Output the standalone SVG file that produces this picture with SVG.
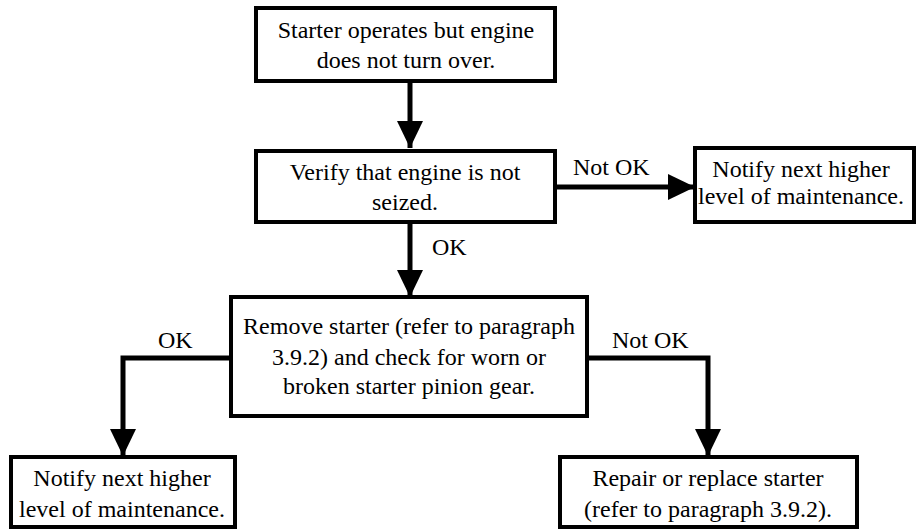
<svg xmlns="http://www.w3.org/2000/svg" width="916" height="529" viewBox="0 0 916 529">
<style>
.box{fill:#fff;stroke:#000;stroke-width:4}
.c{fill:none;stroke:#000;stroke-width:5}
text{font-family:'Liberation Serif','Times New Roman',serif;font-size:24px;fill:#000}
.t{text-anchor:middle}
</style>
<defs>
<marker id="ah" markerUnits="userSpaceOnUse" markerWidth="28" markerHeight="28" viewBox="0 0 28 28" refX="27" refY="14" orient="auto">
<path d="M0,1 L27,14 L0,27 Z" fill="#000" stroke="none"/>
</marker>
</defs>
<rect width="916" height="529" fill="#fff"/>
<g id="connectors">
<path class="c" d="M410,82 V148" marker-end="url(#ah)"/>
<path class="c" d="M556,187 H695" marker-end="url(#ah)"/>
<path class="c" d="M410,223 V297" marker-end="url(#ah)"/>
<path class="c" d="M230,358 H123 V456" marker-end="url(#ah)"/>
<path class="c" d="M588,358 H708 V456" marker-end="url(#ah)"/>
<text x="573" y="175">Not OK</text>
<text x="432" y="255">OK</text>
<text x="158" y="348">OK</text>
<text x="612" y="348">Not OK</text>
</g>
<g id="n1">
<rect class="box" x="256" y="8" width="299" height="73"/>
<text class="t" x="406" y="38">Starter operates but engine</text>
<text class="t" x="406" y="68">does not turn over.</text>
</g>
<g id="n2">
<rect class="box" x="256" y="151" width="299" height="71"/>
<text class="t" x="405" y="180">Verify that engine is not</text>
<text class="t" x="405" y="210">seized.</text>
</g>
<g id="n3">
<rect class="box" x="695" y="148" width="219" height="74"/>
<text class="t" x="801" y="177">Notify next higher</text>
<text class="t" x="801" y="204">level of maintenance.</text>
</g>
<g id="n4">
<rect class="box" x="231" y="297" width="356" height="119"/>
<text class="t" x="409" y="334">Remove starter (refer to paragraph</text>
<text class="t" x="409" y="365">3.9.2) and check for worn or</text>
<text class="t" x="409" y="394">broken starter pinion gear.</text>
</g>
<g id="n5">
<rect class="box" x="11" y="457" width="224" height="70"/>
<text class="t" x="122" y="486">Notify next higher</text>
<text class="t" x="122" y="517">level of maintenance.</text>
</g>
<g id="n6">
<rect class="box" x="560" y="457" width="297" height="70"/>
<text class="t" x="708" y="486">Repair or replace starter</text>
<text class="t" x="708" y="517">(refer to paragraph 3.9.2).</text>
</g>
</svg>
